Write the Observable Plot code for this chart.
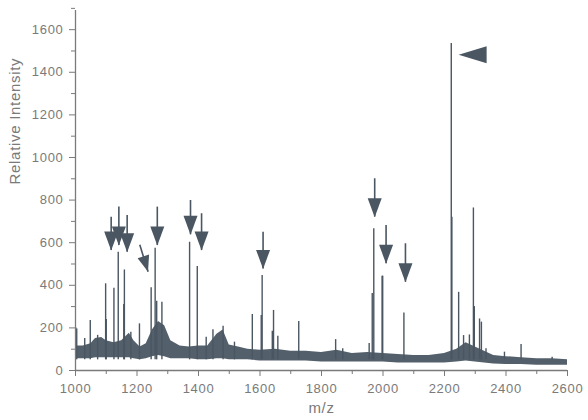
<!DOCTYPE html>
<html><head><meta charset="utf-8">
<script src="https://cdn.jsdelivr.net/npm/d3@7"></script>
<script src="https://cdn.jsdelivr.net/npm/@observablehq/plot@0.6"></script>
<style>
body{margin:0;background:#fff;}
#chart svg{display:block;}
#chart svg text{letter-spacing:0.7px;}
</style>
</head><body><div id="chart"></div>
<script>
// ---- data ----
const peakMz = [1001,1004,1030,1048,1072,1098,1100,1125,1139,1157,1159,1180,1208,1246,1259,1264,1281,1371,1396,1425,1447,1480,1517,1575,1604,1607,1640,1644,1658,1726,1846,1869,1955,1965,1970,1997,1999,2068,2222,2224,2246,2262,2281,2294,2297,2314,2320,2335,2395,2449,2550];
const peakIntensity = [200,195,150,235,165,407,240,386,555,310,472,180,219,388,574,325,320,602,488,156,191,208,133,263,258,446,184,282,161,230,145,102,127,361,665,443,443,270,1535,720,367,164,167,763,300,242,227,102,86,122,62];

const baseMz   = [1000,1025,1050,1065,1085,1100,1125,1150,1175,1190,1210,1230,1250,1270,1290,1310,1340,1370,1400,1430,1460,1480,1500,1530,1560,1600,1650,1700,1750,1800,1850,1900,1950,2000,2050,2100,2150,2200,2240,2270,2300,2330,2360,2400,2450,2500,2550,2600];
const baseLow  = [55,55,55,60,60,60,60,60,60,55,50,55,65,70,65,55,55,55,50,50,55,55,50,50,50,45,45,45,45,40,40,40,40,40,35,35,35,35,40,45,40,35,30,28,28,25,25,25];
const baseHigh = [115,115,125,150,155,140,130,140,175,140,110,125,190,230,210,140,115,110,115,115,170,190,120,110,100,95,100,90,90,85,95,80,85,80,75,70,70,80,100,130,110,90,70,65,60,55,55,50];

const arrowMz       = [1116,1141,1168,1266,1374,1410,1610,1973,2010,2073];
const arrowShaftTop = [720,767,728,767,798,736,649,900,681,595];
const arrowTip      = [563,587,555,587,637,563,477,720,501,414];

const diagArrowTail = [1209, 590];
const diagArrowTip  = [1236, 464];
const bigArrowTip   = [2246, 1482];

const xTicks = [1000,1200,1400,1600,1800,2000,2200,2400,2600];
const xMinor = [1100,1300,1500,1700,1900,2100,2300,2500];
const yTicks = [0,200,400,600,800,1000,1200,1400,1600];
const yMinor = [100,300,500,700,900,1100,1300,1500,1700];

// ---- layout ----
const W = 588, H = 420;
const mL = 75, mR = 21, mT = 10, mB = 50;
const xDomain = [1000, 2600], yDomain = [0, 1690];
const ink = "#4a5662";
const axisColor = "#7a7a7a";

const peaks = peakMz.map((m, i) => ({mz: m, I: peakIntensity[i]}));
const band = baseMz.map((m, i) => ({mz: m, lo: baseLow[i], hi: baseHigh[i]}));
const arrows = arrowMz.map((m, i) => ({mz: m, top: arrowShaftTop[i], tip: arrowTip[i]}));

// pixel angle for the diagonal arrow
const xs = d3.scaleLinear(xDomain, [mL, W - mR]);
const ys = d3.scaleLinear(yDomain, [H - mB, mT]);
const ddx = xs(diagArrowTip[0]) - xs(diagArrowTail[0]);
const ddy = ys(diagArrowTip[1]) - ys(diagArrowTail[1]);
const ang = Math.atan2(ddy, ddx) - Math.PI / 2;

function triSymbol(len, half, theta) {
  const c = Math.cos(theta), s = Math.sin(theta);
  const rot = (x, y) => [x * c - y * s, x * s + y * c];
  return {
    draw(ctx) {
      const p1 = rot(-half, -len), p2 = rot(half, -len);
      ctx.moveTo(0, 0);
      ctx.lineTo(p1[0], p1[1]);
      ctx.lineTo(p2[0], p2[1]);
      ctx.closePath();
    }
  };
}
const downHead = triSymbol(19, 7, 0);
const diagHead = triSymbol(16, 6, ang);
const leftHead = {draw(ctx){ ctx.moveTo(0,0); ctx.lineTo(28,-8.5); ctx.lineTo(28,8.5); ctx.closePath(); }};

const chart = Plot.plot({
  width: W, height: H,
  marginLeft: mL, marginRight: mR, marginTop: mT, marginBottom: mB,
  x: {domain: xDomain},
  y: {domain: yDomain},
  style: {fontFamily: "'Liberation Sans', Arial, sans-serif", fontSize: "13px", color: axisColor, background: "#fff"},
  marks: [
    // noise baseline band
    Plot.areaY(band, {x: "mz", y1: "lo", y2: "hi", fill: ink, fillOpacity: 0.95}),
    // peaks
    Plot.ruleX(peaks, {x: "mz", y1: 50, y2: "I", stroke: ink, strokeWidth: 1.4}),
    // axes
    Plot.ruleX([1000], {y1: 0, y2: 1690, stroke: axisColor, strokeWidth: 1.3}),
    Plot.ruleY([0], {x1: 1000, x2: 2600, stroke: axisColor, strokeWidth: 1.3}),
    Plot.axisX({ticks: xTicks, tickSize: 6, tickPadding: 7, tickFormat: d => String(d), fontSize: 13, label: null}),
    Plot.axisX({ticks: xMinor, tickSize: 4, tickFormat: () => "", label: null}),
    Plot.axisY({ticks: yTicks, tickSize: 6, tickPadding: 6, tickFormat: d => String(d), fontSize: 13, label: null}),
    Plot.axisY({ticks: yMinor, tickSize: 4, tickFormat: () => "", label: null}),
    // arrows
    Plot.ruleX(arrows, {x: "mz", y1: "tip", y2: "top", stroke: ink, strokeWidth: 1.6}),
    Plot.dot(arrows, {x: "mz", y: "tip", symbol: downHead, r: 5, fill: ink, stroke: "none"}),
    Plot.link([0], {x1: diagArrowTail[0], y1: diagArrowTail[1], x2: diagArrowTip[0], y2: diagArrowTip[1], stroke: ink, strokeWidth: 1.6}),
    Plot.dot([0], {x: diagArrowTip[0], y: diagArrowTip[1], symbol: diagHead, r: 5, fill: ink, stroke: "none"}),
    Plot.dot([0], {x: bigArrowTip[0], y: bigArrowTip[1], symbol: leftHead, r: 5, fill: ink, stroke: "none"}),
    // axis titles
    Plot.text(["m/z"], {frameAnchor: "bottom", dy: 42, fontSize: 15, fill: axisColor}),
    Plot.text(["Relative Intensity"], {frameAnchor: "left", dx: -60, dy: -6, rotate: -90, fontSize: 15, fill: axisColor})
  ]
});
document.getElementById("chart").appendChild(chart);
</script>
</body></html>
